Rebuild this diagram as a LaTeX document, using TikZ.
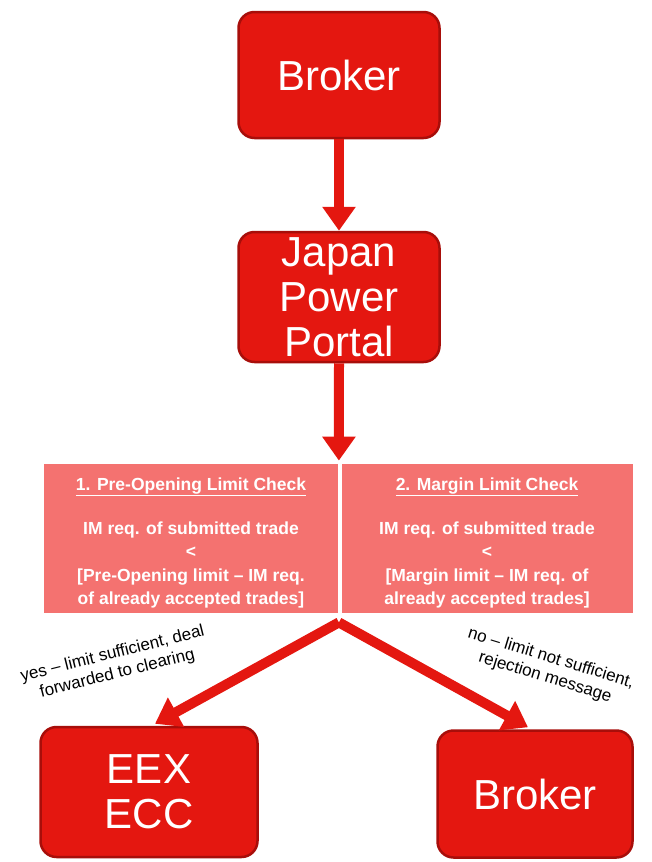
\documentclass[tikz,border=0pt]{standalone}
\usepackage{fontspec}
\setmainfont{Liberation Sans}
\usetikzlibrary{arrows.meta,positioning}
\definecolor{boxred}{RGB}{228,23,16}
\definecolor{boxedge}{RGB}{168,14,10}
\definecolor{checkred}{RGB}{244,114,112}

\begin{document}
\begin{tikzpicture}[x=1pt,y=-1pt,
	bigbox/.style={draw=boxedge,line width=2.5pt,fill=boxred,rounded corners=16pt,
		text=white,align=center,font=\fontsize{42}{45}\selectfont},
	checkbox/.style={draw=white,line width=0.8pt,fill=checkred,minimum width=295pt,minimum height=150pt},
	checktext/.style={text=white,align=center,font=\bfseries\fontsize{17.5}{23.5}\selectfont},
	flow/.style={boxred,line width=10pt,-{Triangle[width=32pt,length=24pt]}},
	note/.style={align=center,font=\fontsize{17}{20}\selectfont}
	]
	\useasboundingbox (0,0) rectangle (651,862);

	\node[bigbox,minimum width=201pt,minimum height=126pt] (broker) at (339,75) {Broker};
	\node[bigbox,minimum width=201pt,minimum height=130pt] (portal) at (339,297) {Japan\\Power\\Portal};

	\node[checkbox] (checkA) at (191,538) {};
	\node[checkbox,minimum width=292pt] (checkB) at (487,538) {};
	% texts of the two checks, a bit lower than the box centres
	\node[checktext] (textA) at ([yshift=-5pt]checkA.center) {\underline{1. Pre-Opening Limit Check}\\[20pt]IM req. of submitted trade\\<\\{}[Pre-Opening limit -- IM req.\\of already accepted trades]};
	\node[checktext] (textB) at ([yshift=-5pt]checkB.center) {\underline{2. Margin Limit Check}\\[20pt]IM req. of submitted trade\\<\\{}[Margin limit -- IM req. of\\already accepted trades]};

	\node[bigbox,minimum width=217pt,minimum height=130pt] (eex) at (149,792) {EEX\\ECC};
	\node[bigbox,minimum width=195pt,minimum height=127pt] (brokerB) at (535,794) {Broker};

	\coordinate (fork) at ([yshift=-9pt]checkA.south east);
	\coordinate (eexin) at ([xshift=6pt,yshift=2pt]eex.north);
	\coordinate (brokerin) at ([xshift=-7pt,yshift=2pt]brokerB.north);

	\draw[flow] (broker.south) -- (portal.north);
	\draw[flow] (portal.south) -- ([yshift=2pt]checkA.north east);
	\draw[flow] (fork) -- (eexin);
	\draw[flow] (fork) -- (brokerin);

	\node[note,rotate=14] (yes) at (115,664) {yes -- limit sufficient, deal\\forwarded to clearing};
	\node[note,rotate=-17] (no) at (548,668) {no -- limit not sufficient,\\rejection message};
\end{tikzpicture}
\end{document}
